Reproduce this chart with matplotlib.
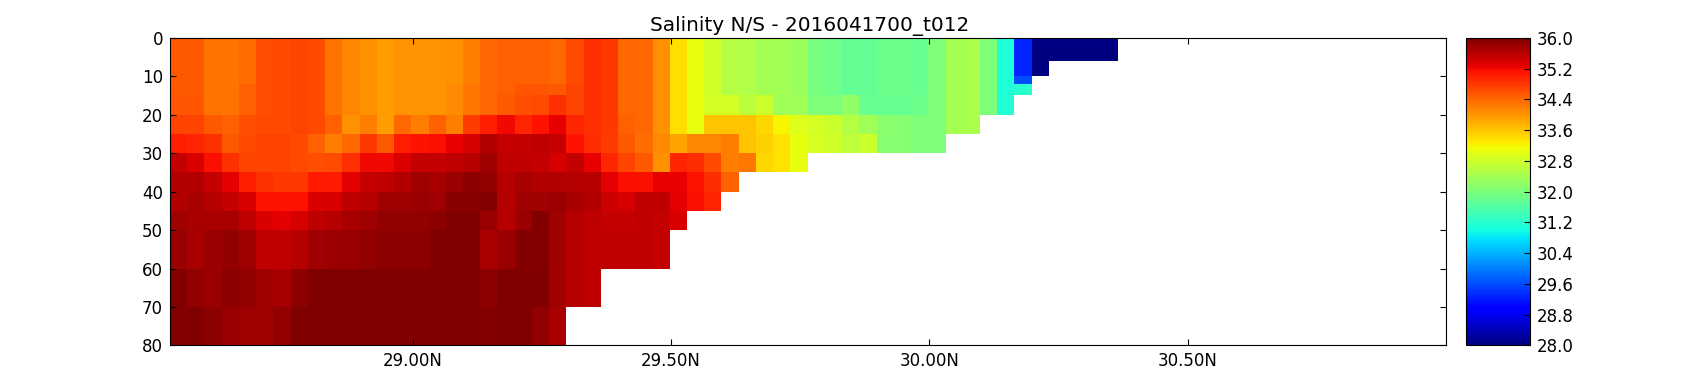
# -*- coding: utf-8 -*-

import numpy as np
import matplotlib
matplotlib.use('Agg')
import matplotlib.pyplot as plt

depth_edges = [0, 2, 6, 10, 12, 15, 20, 25, 30, 35, 40, 45, 50, 60, 70, 80]
lat_start = 28.53
lat_step = 0.03336
n_lat = 55
xticks = [29.0, 29.5, 30.0, 30.5]
yticks = [0, 10, 20, 30, 40, 50, 60, 70, 80]
cbar_ticks = [28.0, 28.8, 29.6, 30.4, 31.2, 32.0, 32.8, 33.6, 34.4, 35.2, 36.0]

top = [34.5, 34.5, 34.3, 34.3, 34.35, 34.6, 34.65, 34.7, 34.65, 34.3, 34.15, 34.05, 33.95, 34.0, 34.0, 34.0, 34.05, 34.2, 34.4, 34.45, 34.45, 34.45, 34.4, 34.65, 34.85, 34.8, 34.4, 34.4, 34.05, 33.4, 33.05, 32.8, 32.55, 32.5, 32.4, 32.4, 32.3, 31.95, 31.9, 31.75, 31.75, 31.85, 31.85, 31.8, 32.0, 32.4, 32.45, 32.0, 31.1, 29.3]

d00 = top + [28.05, 28.05, 28.05, 28.05, 28.05]
d02 = top + [28.0, 28.0, 28.0, 28.0, 28.0]
d06 = top + [28.0]
d10 = top[:49] + [29.6]
d12 = [34.5, 34.5, 34.3, 34.3, 34.45, 34.6, 34.65, 34.7, 34.65, 34.3, 34.15, 34.05, 33.95, 34.0, 34.0, 34.0, 34.1, 34.25, 34.4, 34.45, 34.55, 34.55, 34.5, 34.7, 34.85, 34.8, 34.4, 34.4, 34.05, 33.4, 33.05, 32.8, 32.55, 32.5, 32.4, 32.4, 32.3, 31.95, 31.9, 31.75, 31.75, 31.85, 31.85, 31.8, 32.0, 32.4, 32.45, 32.0, 31.1, 31.2]
d15 = [34.55, 34.55, 34.3, 34.3, 34.45, 34.6, 34.65, 34.7, 34.65, 34.3, 34.15, 34.05, 33.95, 34.0, 34.0, 34.0, 34.1, 34.25, 34.4, 34.5, 34.6, 34.65, 34.85, 34.7, 34.85, 34.8, 34.4, 34.4, 34.05, 33.4, 33.05, 32.85, 32.85, 32.6, 32.75, 32.35, 32.35, 32.0, 32.0, 32.2, 31.8, 31.8, 31.8, 31.85, 32.0, 32.4, 32.45, 32.0, 31.15]
d20 = [34.7, 34.7, 34.5, 34.45, 34.6, 34.65, 34.65, 34.7, 34.65, 34.45, 34.05, 34.2, 33.95, 34.4, 34.2, 34.45, 34.2, 34.75, 35.0, 35.2, 34.95, 35.1, 35.25, 34.95, 34.85, 34.8, 34.45, 34.4, 34.05, 33.4, 33.05, 33.6, 33.6, 33.6, 33.45, 33.2, 32.95, 32.85, 32.75, 32.55, 32.35, 32.15, 32.1, 32.0, 32.0, 32.4, 32.45]
d25 = [35.0, 34.95, 34.85, 34.5, 34.65, 34.7, 34.7, 34.65, 34.45, 34.2, 34.4, 34.8, 34.5, 35.0, 35.1, 35.15, 35.25, 35.4, 35.65, 35.5, 35.5, 35.55, 35.5, 35.1, 34.9, 34.75, 34.5, 34.35, 34.1, 33.9, 34.15, 34.15, 34.2, 33.6, 33.5, 33.35, 33.05, 32.85, 32.8, 32.65, 32.75, 32.1, 32.1, 32.0, 32.0]
d30 = [35.5, 35.35, 35.15, 34.85, 34.7, 34.7, 34.7, 34.65, 34.6, 34.65, 34.85, 35.2, 35.2, 35.35, 35.5, 35.5, 35.55, 35.6, 35.75, 35.55, 35.55, 35.5, 35.4, 35.5, 35.25, 34.95, 34.7, 34.5, 34.05, 34.95, 34.9, 34.65, 34.2, 34.25, 33.45, 33.35, 33.05]
d35 = [35.65, 35.65, 35.5, 35.3, 35.0, 34.85, 34.8, 34.8, 35.05, 35.05, 35.3, 35.5, 35.55, 35.65, 35.75, 35.7, 35.8, 35.9, 35.85, 35.6, 35.7, 35.65, 35.65, 35.6, 35.6, 35.3, 35.15, 35.15, 35.25, 35.25, 35.1, 34.9, 34.45]
d40 = [35.65, 35.7, 35.6, 35.5, 35.35, 35.1, 35.1, 35.1, 35.35, 35.35, 35.55, 35.6, 35.75, 35.75, 35.8, 35.75, 35.93, 35.93, 35.95, 35.6, 35.75, 35.75, 35.8, 35.7, 35.65, 35.45, 35.4, 35.55, 35.55, 35.3, 35.15, 34.95]
d45 = [35.75, 35.7, 35.7, 35.7, 35.55, 35.35, 35.3, 35.4, 35.55, 35.6, 35.7, 35.75, 35.85, 35.85, 35.85, 35.9, 35.97, 35.97, 35.8, 35.6, 35.8, 35.95, 35.75, 35.6, 35.55, 35.5, 35.5, 35.55, 35.5, 35.35]
d50 = [35.8, 35.7, 35.8, 35.85, 35.75, 35.55, 35.55, 35.6, 35.75, 35.8, 35.8, 35.85, 35.9, 35.9, 35.9, 36.0, 36.0, 36.0, 35.7, 35.8, 35.95, 35.95, 35.75, 35.6, 35.55, 35.55, 35.55, 35.55, 35.5]
d60 = [35.95, 35.85, 35.8, 35.9, 35.85, 35.75, 35.7, 35.9, 36.0, 36.0, 36.0, 36.0, 36.0, 36.0, 36.0, 36.0, 36.0, 36.0, 35.9, 36.0, 36.0, 36.0, 35.75, 35.6, 35.55]
d70 = [35.95, 35.97, 35.9, 35.8, 35.75, 35.75, 35.85, 36.0, 36.0, 36.0, 36.0, 36.0, 36.0, 36.0, 36.0, 36.0, 36.0, 36.0, 35.95, 35.97, 35.97, 35.85, 35.7]

rows = [d00, d02, d06, d10, d12, d15, d20, d25, d30, d35, d40, d45, d50, d60, d70]
salinity = np.full((len(rows), n_lat), np.nan)
for i, row in enumerate(rows):
    salinity[i, :len(row)] = row
salinity = np.ma.masked_invalid(salinity)

lat_edges = lat_start + lat_step * np.arange(n_lat + 1)

fig = plt.figure(figsize=(17, 3.84), dpi=100)
ax = fig.add_axes([170 / 1700, 1 - 345.4 / 384, 1276 / 1700, 307.6 / 384])
mesh = ax.pcolormesh(lat_edges, depth_edges, salinity, cmap='jet', vmin=28, vmax=36)
ax.set_xlim(28.53, 31.0)
ax.set_ylim(80, 0)
ax.set_xticks(xticks)
ax.set_xticklabels(['%.2fN' % t for t in xticks])
ax.set_yticks(yticks)
ax.tick_params(direction='in', top=True, right=True, labelsize=12, length=4, pad=5)
ax.set_title('Salinity N/S - 2016041700_t012', fontsize=14.4, pad=5, x=0.501)

cax = fig.add_axes([1466 / 1700, 1 - 345.4 / 384, 64 / 1700, 307.6 / 384])
cb = fig.colorbar(mesh, cax=cax, ticks=cbar_ticks)
cb.ax.set_yticklabels(['%.1f' % t for t in cbar_ticks])
cb.ax.tick_params(direction='in', labelsize=12, length=4, pad=5)

fig.savefig('out.png', dpi=100)
